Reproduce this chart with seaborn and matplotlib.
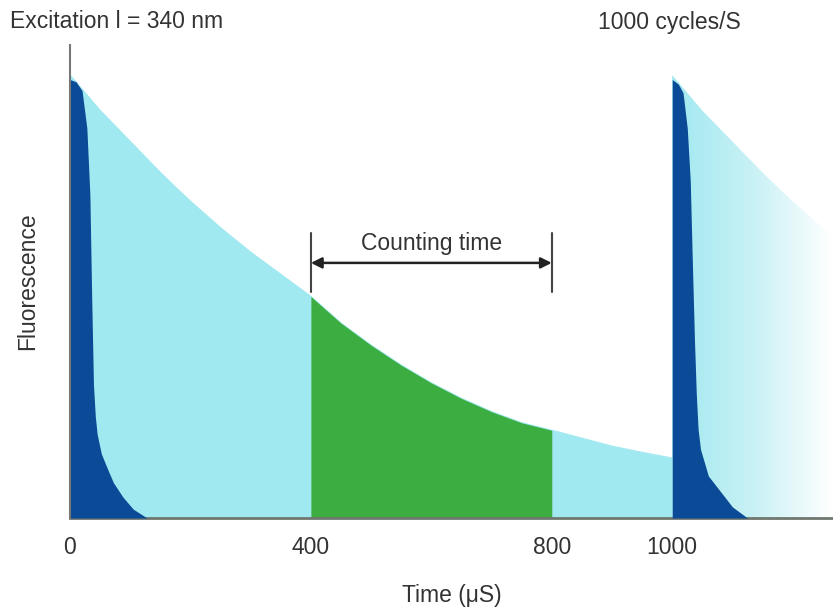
import numpy as np
import matplotlib.pyplot as plt
import seaborn as sns
from matplotlib.colors import LinearSegmentedColormap

# Slow (long-lived) fluorescence decay, first cycle (time in uS, relative signal)
decay_t = [0, 25, 50, 75, 100, 125, 150, 175, 200, 250, 300, 350, 400, 450, 500,
           550, 600, 650, 700, 750, 800, 850, 900, 950, 1000]
decay_f = [100, 96, 92, 88.5, 85, 81.5, 78, 74.7, 71.5, 65.5, 60, 55, 50, 44, 39,
           34.5, 30.5, 27, 24, 21.5, 19.8, 18, 16.2, 14.8, 13.5]

# Second cycle (starts at 1000 uS, fades out at right)
decay2_t = [1000, 1025, 1050, 1075, 1100, 1125, 1150, 1175, 1200, 1250, 1267]
decay2_f = [100, 96, 92, 88.5, 85, 81.5, 78, 74.7, 71.5, 65.5, 63.5]

# Fast (short-lived) background fluorescence
fast_t = [0, 10, 20, 28, 33, 36, 39, 42, 45, 52, 61, 72, 88, 105, 128]
fast_f = [99, 98.5, 96.5, 88, 73, 50, 30, 23, 19, 14.5, 11.5, 8, 4.7, 2, 0]
fast2_t = [1000, 1010, 1018, 1025, 1030, 1033, 1037, 1040, 1043, 1047, 1060, 1080, 1100, 1125]
fast2_f = [99, 98, 96, 88, 76, 60, 40, 28, 20, 15.5, 9.5, 6, 2.5, 0]

# Counting window
count_start, count_end = 400, 800
tick_vals = [0, 400, 800, 1000]

light_blue = '#a0e9f0'
dark_blue = '#0b4a96'
green = '#3cad40'
text_col = '#333333'

sns.set_theme(style="white")
plt.rcParams['font.family'] = ['Liberation Sans', 'DejaVu Sans']

fig = plt.figure(figsize=(8.33, 6.10), dpi=100)
ax = fig.add_axes([70 / 833, 92 / 610, 763 / 833, 473 / 610])

t = np.array(decay_t)
f = np.array(decay_f)

# first cycle
ax.fill_between(t, 0, f, color=light_blue, lw=0, zorder=1)
sns.lineplot(x=t, y=f, color=light_blue, lw=1, ax=ax, zorder=1)

# counting window
win = (t >= count_start) & (t <= count_end)
ax.fill_between(t[win], 0, f[win], color=green, lw=0, zorder=2)

# second cycle with fade to white
poly = ax.fill_between(decay2_t, 0, decay2_f, color='none', lw=0, zorder=1)
fade = LinearSegmentedColormap.from_list('fade', [light_blue, '#c8f1f5', '#ffffff'])
im = ax.imshow(np.linspace(0, 1, 256).reshape(1, -1), cmap=fade, aspect='auto',
               extent=[decay2_t[0], decay2_t[-1], 0, 101], zorder=1)
im.set_clip_path(poly.get_paths()[0], transform=ax.transData)

# fast decays
ax.fill_between(fast_t, 0, fast_f, color=dark_blue, lw=0, zorder=3)
ax.fill_between(fast2_t, 0, fast2_f, color=dark_blue, lw=0, zorder=3)

# counting time arrow
for x in (count_start, count_end):
    ax.plot([x, x], [51, 64.3], color='#444444', lw=1.5, zorder=4)
ax.annotate('', xy=(count_start, 57.6), xytext=(count_end, 57.6),
            arrowprops=dict(arrowstyle='<|-|>', color='#222222', lw=1.8,
                            mutation_scale=16, shrinkA=0, shrinkB=0), zorder=4)
ax.text((count_start + count_end) / 2, 62, 'Counting time', ha='center', va='center',
        fontsize=16.5, color=text_col)

ax.set_xlim(0, 1267)
ax.set_ylim(0, 106.8)
ax.set_xticks(tick_vals)
ax.set_xticklabels([str(v) for v in tick_vals], fontsize=16.5, color=text_col)
ax.set_yticks([])
ax.tick_params(axis='x', length=0, pad=13)
ax.set_xlabel('Time (μS)', fontsize=16.5, color=text_col, labelpad=18)
ax.set_ylabel('Fluorescence', fontsize=16.5, color=text_col, labelpad=22)

for s in ('top', 'right'):
    ax.spines[s].set_visible(False)
ax.spines['left'].set_color('#777777')
ax.spines['left'].set_linewidth(1.5)
ax.spines['bottom'].set_color('#6f776f')
ax.spines['bottom'].set_linewidth(2)
ax.spines['left'].set_zorder(5)

fig.text(10 / 833, 1 - 22 / 610, 'Excitation l = 340 nm', ha='left', va='center',
         fontsize=16.5, color=text_col)
fig.text(598 / 833, 1 - 22 / 610, '1000 cycles/S', ha='left', va='center',
         fontsize=16.5, color=text_col)

plt.savefig('out.png', dpi=100)
plt.close()
